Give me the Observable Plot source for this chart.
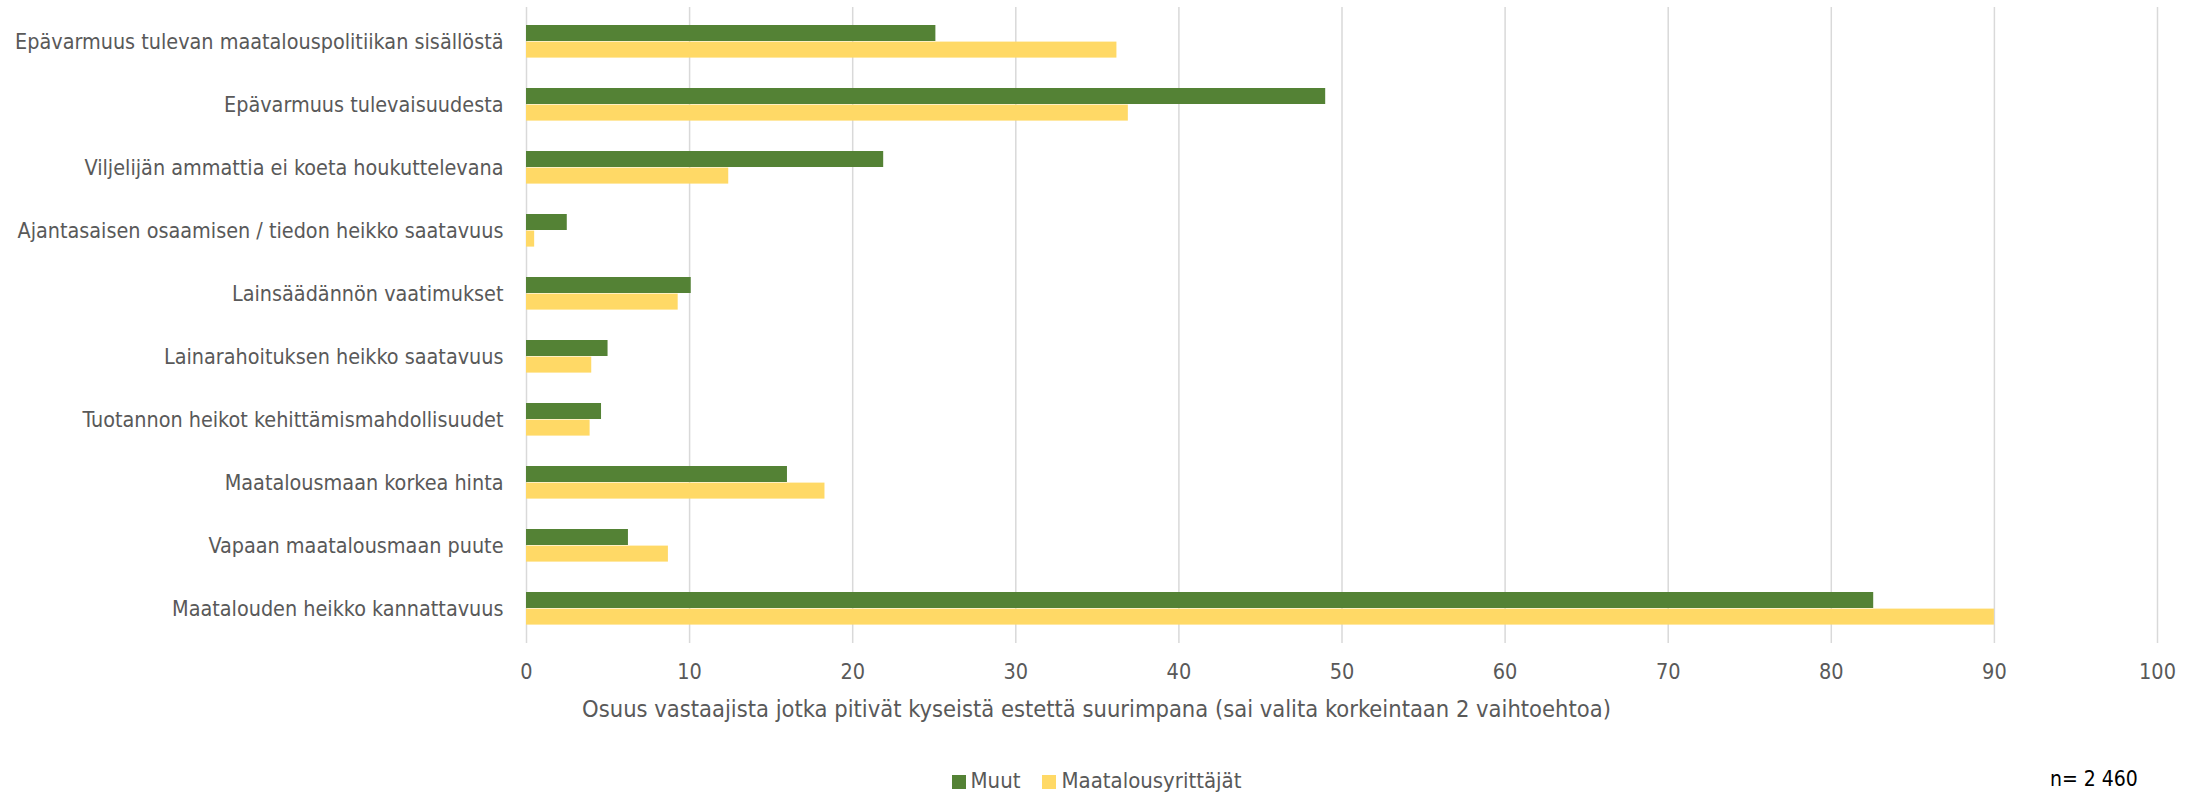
<!DOCTYPE html>
<html>
<head>
<meta charset="utf-8">
<script src="https://cdn.jsdelivr.net/npm/d3@7"></script>
<script src="https://cdn.jsdelivr.net/npm/@observablehq/plot@0.6"></script>
<style>
  html, body { margin: 0; padding: 0; background: #fff; }
  body { width: 2193px; height: 794px; overflow: hidden; position: relative;
         font-family: "DejaVu Sans Condensed", sans-serif; color: #595959; }
  #title { position: absolute; left: 0; width: 2193px; top: 695px; text-align: center; font-size: 23.5px; }
  #legend { position: absolute; left: 0; width: 2193px; top: 768px; text-align: center; font-size: 22px; white-space: nowrap; }
  #legend span.sw { display: inline-block; width: 14px; height: 14px; margin-right: 5px; vertical-align: -1px; }
  #legend span.item { margin: 0 11px; }
  #n { position: absolute; left: 2050px; top: 767px; font-size: 21px; color: #000; white-space: nowrap; }
</style>
</head>
<body>
<div id="chart"></div>
<div id="title"></div>
<div id="legend"></div>
<div id="n"></div>
<script>
const categories = [
  "Epävarmuus tulevan maatalouspolitiikan sisällöstä",
  "Epävarmuus tulevaisuudesta",
  "Viljelijän ammattia ei koeta houkuttelevana",
  "Ajantasaisen osaamisen / tiedon heikko saatavuus",
  "Lainsäädännön vaatimukset",
  "Lainarahoituksen heikko saatavuus",
  "Tuotannon heikot kehittämismahdollisuudet",
  "Maatalousmaan korkea hinta",
  "Vapaan maatalousmaan puute",
  "Maatalouden heikko kannattavuus"
];
const seriesNames = ["Muut", "Maatalousyrittäjät"];
const muut = [25.1, 49.0, 21.9, 2.5, 10.1, 5.0, 4.6, 16.0, 6.25, 82.6];
const maatalousyrittajat = [36.2, 36.9, 12.4, 0.5, 9.3, 4.0, 3.9, 18.3, 8.7, 90.0];
const xTicks = [0, 10, 20, 30, 40, 50, 60, 70, 80, 90, 100];
const axisTitle = "Osuus vastaajista jotka pitivät kyseistä estettä suurimpana (sai valita korkeintaan 2 vaihtoehtoa)";
const nText = "n= 2 460";
const colors = ["#548235", "#FFD966"];

const dataMuut = categories.map((c, i) => ({category: c, value: muut[i]}));
const dataMaat = categories.map((c, i) => ({category: c, value: maatalousyrittajat[i]}));

const font = '"DejaVu Sans Condensed", sans-serif';

const chart = Plot.plot({
  width: 2193,
  height: 690,
  marginLeft: 526,
  marginRight: 36,
  marginTop: 7,
  marginBottom: 47,
  style: {fontFamily: font, fontSize: "21px", color: "#595959", background: "#fff"},
  x: {domain: [0, 100], ticks: xTicks, label: null},
  y: {domain: categories, padding: 0, label: null},
  marks: [
    Plot.gridX(xTicks, {stroke: "#d9d9d9", strokeOpacity: 1, strokeWidth: 1.5}),
    Plot.barX(dataMuut, {x: "value", y: "category", fill: colors[0], insetTop: 15, insetBottom: 32}),
    Plot.barX(dataMaat, {x: "value", y: "category", fill: colors[1], insetTop: 31.6, insetBottom: 15.4}),
    Plot.axisX({ticks: xTicks, tickSize: 0, tickPadding: 20, label: null, fill: "#595959", fontSize: 21.5}),
    Plot.axisY({tickSize: 0, tickPadding: 23, label: null, fill: "#595959", fontSize: 21.4})
  ]
});
document.getElementById("chart").appendChild(chart);
document.getElementById("title").textContent = axisTitle;
document.getElementById("n").textContent = nText;
const leg = document.getElementById("legend");
seriesNames.forEach((s, i) => {
  const item = document.createElement("span");
  item.className = "item";
  const sw = document.createElement("span");
  sw.className = "sw";
  sw.style.background = colors[i];
  item.appendChild(sw);
  item.appendChild(document.createTextNode(s));
  leg.appendChild(item);
});
</script>
</body>
</html>
